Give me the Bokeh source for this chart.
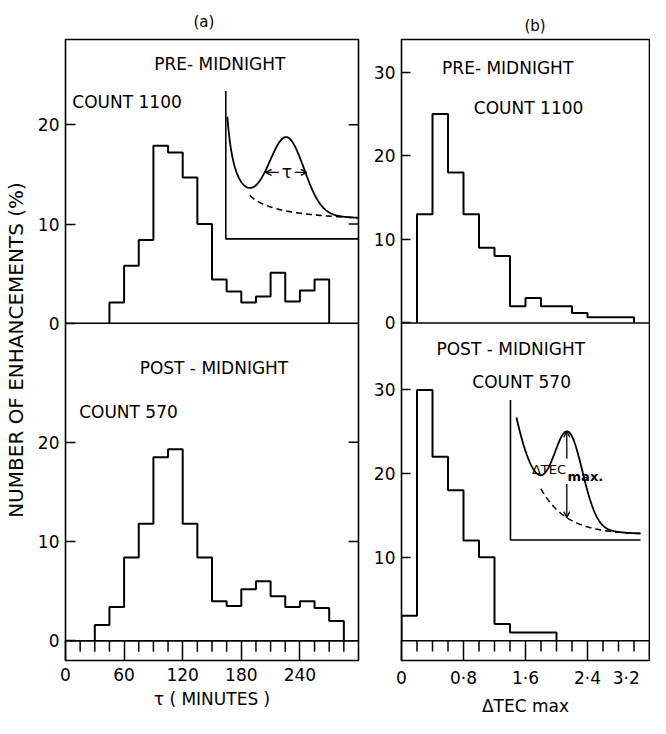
import numpy as np
from bokeh.plotting import figure
from bokeh.models import Range1d, FixedTicker, Label, Arrow, OpenHead, Span
from bokeh.layouts import row
from bokeh.embed import file_html
from bokeh.resources import INLINE

# ---------------- data (percent of enhancements per bin) ----------------
tau_bin_width = 15
pre_tau_start = 45
pre_tau_pct = [2.1, 5.8, 8.4, 17.9, 17.2, 14.7, 10.0, 4.4, 3.2, 2.1, 2.7, 5.1, 2.2, 3.3, 4.4]
post_tau_start = 30
post_tau_pct = [1.6, 3.4, 8.4, 11.8, 18.5, 19.3, 11.8, 8.4, 4.0, 3.5, 5.2, 6.0, 4.5, 3.4, 4.0, 3.3, 2.0]

tec_bin_width = 0.2
pre_tec_start = 0.2
pre_tec_pct = [13, 25, 18, 13, 9, 8, 2, 3, 2, 2, 1.2, 0.7, 0.7, 0.7]
post_tec_start = 0.0
post_tec_pct = [3, 30, 22, 18, 12, 10, 2, 1, 1, 1]

tau_major = [0, 60, 120, 180, 240]
tau_minor_step = 15
tau_max = 300
tec_major = [0, 0.8, 1.6, 2.4, 3.2]
tec_major_labels = ["0", "0·8", "1·6", "2·4", "3·2"]
tec_minor_step = 0.2
tec_max = 3.2

a_yticks = [0, 10, 20]
a_right_ticks = [10, 20]
b_yticks_upper = [0, 10, 20, 30]
b_yticks_lower = [10, 20, 30]

# ---------------- layout ----------------
FONT = "DejaVu Sans"
H = 718
FRAME_BOTTOM = 668
ZERO_LOWER = 648
STRIP = FRAME_BOTTOM - ZERO_LOWER
A_PX, A_OFF = 10.1, 32      # px per % ; upper-panel zero in lower-panel units
B_PX, B_OFF = 8.47, 38
NBSP = "\u00a0"


def step_xy(start, width, vals):
    vals = np.asarray(vals, dtype=float)
    edges = start + width * np.arange(len(vals) + 1)
    xs = np.repeat(edges, 2)
    ys = np.concatenate([[0.0], np.repeat(vals, 2), [0.0]])
    return xs, ys


def make_panel(width, left, right, top, x_max, px, off, title, title_offset, title_standoff):
    ylo = -STRIP / px
    yhi = (ZERO_LOWER - top) / px
    p = figure(width=width, height=H, x_range=Range1d(0, x_max), y_range=Range1d(ylo, yhi),
               output_backend="svg", toolbar_location=None,
               min_border_left=left, min_border_right=right, min_border_top=top,
               min_border_bottom=H - FRAME_BOTTOM)
    p.extra_y_ranges = {"up": Range1d(ylo - off, yhi - off)}
    p.grid.visible = False
    p.background_fill_color = "white"
    p.border_fill_color = "white"
    p.outline_line_color = "black"
    p.outline_line_width = 1.6
    p.title.text = title
    p.title.align = "left"
    p.title.offset = title_offset
    p.title.standoff = title_standoff
    p.title.text_font = FONT
    p.title.text_font_size = "15px"
    p.title.text_font_style = "normal"
    p.title.text_color = "black"
    for loc in (0, off):
        p.add_layout(Span(location=loc, dimension="width", line_color="black", line_width=1.6))
    return p


def style_axis(ax):
    ax.major_label_text_font = FONT
    ax.major_label_text_font_size = "17px"
    ax.major_label_text_color = "black"
    ax.minor_tick_in = 0
    ax.minor_tick_out = 0
    ax.major_tick_out = 0
    ax.major_tick_line_color = "black"
    ax.major_tick_line_width = 1.5
    ax.axis_line_color = None
    ax.axis_label_text_font = FONT
    ax.axis_label_text_font_style = "normal"
    ax.axis_label_text_color = "black"


def add_label(p, x, y, text, align="center", size="17px", rng="default", style="normal"):
    p.add_layout(Label(x=x, y=y, text=text, text_align=align, text_baseline="middle",
                       text_font=FONT, text_font_size=size, text_font_style=style,
                       text_color="black", y_range_name=rng))


# ================= panel (a) : tau =================
pa = make_panel(361, 60, 3, 36, tau_max, A_PX, A_OFF, "(a)", 128, 18)

ya = pa.yaxis[0]
ya.ticker = FixedTicker(ticks=a_yticks + [A_OFF + t for t in a_yticks])
ya.major_label_overrides = {A_OFF + t: str(t) for t in a_yticks}
style_axis(ya)
ya.major_tick_in = 10
ya.major_label_standoff = 6
ya.axis_label = "NUMBER OF ENHANCEMENTS (%)"
ya.axis_label_text_font_size = "20px"
ya.axis_label_standoff = 7

xa = pa.xaxis[0]
xa.ticker = FixedTicker(ticks=tau_major, minor_ticks=[])
style_axis(xa)
xa.major_tick_in = STRIP
xa.major_label_standoff = 7
xa.axis_label = "τ ( MINUTES )"
xa.axis_label_text_font_size = "17px"
xa.axis_label_standoff = 5

# inward ticks on the right edge of panel (a)
px_per_min = 298 / tau_max
for rng, tks in (("default", a_right_ticks), ("up", a_right_ticks)):
    pa.segment(x0=tau_max, y0=tks, x1=tau_max - 10 / px_per_min, y1=tks,
               line_color="black", line_width=1.5, y_range_name=rng)

tau_minor = [v for v in range(tau_minor_step, tau_max, tau_minor_step) if v % 60]
pa.segment(x0=tau_minor, y0=0, x1=tau_minor, y1=-11 / A_PX, line_color="black", line_width=1.5)

xs, ys = step_xy(pre_tau_start, tau_bin_width, pre_tau_pct)
pa.line(xs, ys, line_color="black", line_width=2, y_range_name="up")
xs, ys = step_xy(post_tau_start, tau_bin_width, post_tau_pct)
pa.line(xs, ys, line_color="black", line_width=2)

add_label(pa, 158, 26.1, "PRE- MIDNIGHT", rng="up")
add_label(pa, 7, 22.3, "COUNT 1100", align="left", rng="up")
add_label(pa, 152, 27.5, "POST - MIDNIGHT")
add_label(pa, 14, 23.1, "COUNT 570", align="left")

# inset sketch (a): decaying background plus an enhancement of width tau
ax0, ax1, ay0, ay1 = 164.1, 300, 8.5, 23.4
ua = np.linspace(0.012, 1, 240)
bg_a = 0.1 + 0.9 / (1 + ua / 0.05)
tot_a = bg_a + 0.5 * np.exp(-0.5 * ((ua - 0.46) / 0.13) ** 2)
pa.line([ax0, ax0, ax1], [ay1, ay0, ay0], line_color="black", line_width=1.6, y_range_name="up")
pa.line(ax0 + ua * (ax1 - ax0), ay0 + tot_a * (ay1 - ay0), line_color="black", line_width=1.8,
        y_range_name="up")
i_min = np.argmin(np.where((ua > 0.1) & (ua < 0.4), tot_a, 9))
pa.line(ax0 + ua[i_min:] * (ax1 - ax0), ay0 + bg_a[i_min:] * (ay1 - ay0), line_color="black",
        line_width=1.6, line_dash="6 4", y_range_name="up")
yt = ay0 + 0.45 * (ay1 - ay0)
for u_from, u_to in ((0.40, 0.30), (0.52, 0.61)):
    pa.add_layout(Arrow(x_start=ax0 + u_from * (ax1 - ax0), y_start=yt,
                        x_end=ax0 + u_to * (ax1 - ax0), y_end=yt, y_range_name="up",
                        line_width=1.3, end=OpenHead(size=6, line_width=1.3)))
add_label(pa, ax0 + 0.46 * (ax1 - ax0), yt, "τ", size="17px", rng="up")

# ================= panel (b) : delta TEC max =================
pb = make_panel(289, 40, 1, 39, tec_max, B_PX, B_OFF, "(b)", 123, 9)

yb = pb.yaxis[0]
yb.ticker = FixedTicker(ticks=b_yticks_lower + [B_OFF + t for t in b_yticks_upper])
yb.major_label_overrides = {B_OFF + t: str(t) for t in b_yticks_upper}
style_axis(yb)
yb.major_tick_in = 9
yb.major_label_standoff = 6

xb = pb.xaxis[0]
xb.ticker = FixedTicker(ticks=tec_major, minor_ticks=[])
tec_overrides = dict(zip(tec_major, tec_major_labels))
tec_overrides[tec_major[-1]] = tec_major_labels[-1] + NBSP * 2   # keep the edge label inside the page
xb.major_label_overrides = tec_overrides
style_axis(xb)
xb.major_tick_in = STRIP
xb.major_label_standoff = 7
xb.axis_label = "ΔTEC max"
xb.axis_label_text_font_size = "17px"
xb.axis_label_standoff = 5

n_minor = int(round(tec_max / tec_minor_step))
tec_minor = [round(k * tec_minor_step, 1) for k in range(1, n_minor) if k % 4]
pb.segment(x0=tec_minor, y0=0, x1=tec_minor, y1=-11 / B_PX, line_color="black", line_width=1.5)

xs, ys = step_xy(pre_tec_start, tec_bin_width, pre_tec_pct)
pb.line(xs, ys, line_color="black", line_width=2, y_range_name="up")
xs, ys = step_xy(post_tec_start, tec_bin_width, post_tec_pct)
pb.line(xs, ys, line_color="black", line_width=2)

add_label(pb, 1.37, 30.5, "PRE- MIDNIGHT", rng="up")
add_label(pb, 1.64, 25.75, "COUNT 1100", rng="up")
add_label(pb, 1.41, 34.9, "POST - MIDNIGHT")
add_label(pb, 1.55, 31.0, "COUNT 570")

# inset sketch (b): enhancement height above the background
bx0, bx1, by0, by1 = 1.406, 3.084, 12.04, 28.8
ub = np.linspace(0.046, 1, 240)
bg_b = 0.04 + 1.05 * np.exp(-ub / 0.2)
tot_b = bg_b + 0.62 * np.exp(-0.5 * ((ub - 0.446) / 0.11) ** 2)
pb.line([bx0, bx0, bx1], [by1, by0, by0], line_color="black", line_width=1.6)
pb.line(bx0 + ub * (bx1 - bx0), by0 + tot_b * (by1 - by0), line_color="black", line_width=1.8)
j_min = np.argmin(np.where((ub > 0.1) & (ub < 0.4), tot_b, 9))
pb.line(bx0 + ub[j_min:] * (bx1 - bx0), by0 + bg_b[j_min:] * (by1 - by0), line_color="black",
        line_width=1.6, line_dash="6 4")
j_pk = np.argmax(np.where(ub > 0.3, tot_b, -9))
xp = bx0 + ub[j_pk] * (bx1 - bx0)
v_top, v_bot = tot_b[j_pk], bg_b[j_pk]
pb.add_layout(Arrow(x_start=xp, y_start=by0 + 0.58 * (by1 - by0), x_end=xp, y_end=by0 + v_top * (by1 - by0),
                    line_width=1.3, end=OpenHead(size=6, line_width=1.3)))
pb.add_layout(Arrow(x_start=xp, y_start=by0 + 0.40 * (by1 - by0), x_end=xp, y_end=by0 + v_bot * (by1 - by0),
                    line_width=1.3, end=OpenHead(size=6, line_width=1.3)))
add_label(pb, xp - 0.01, by0 + 0.50 * (by1 - by0), "ΔTEC", align="right", size="13px")
add_label(pb, xp + 0.01, by0 + 0.455 * (by1 - by0), "max.", align="left", size="13px", style="bold")

layout = row(pa, pb)
open("out.html", "w").write(file_html(layout, INLINE))
